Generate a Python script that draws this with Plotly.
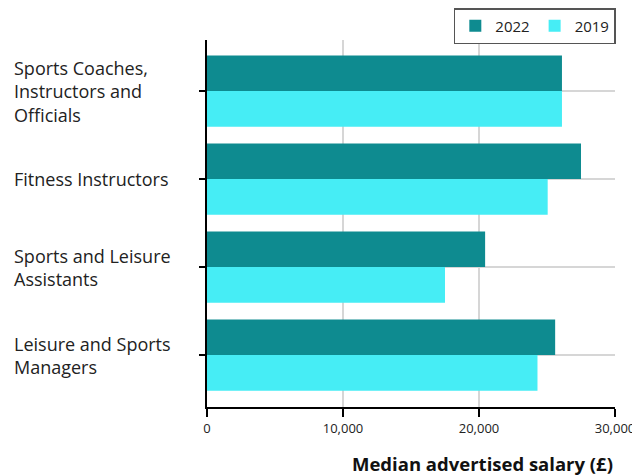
import plotly.graph_objects as go

categories = ["Sports Coaches,<br>Instructors and<br>Officials",
              "Fitness Instructors",
              "Sports and Leisure<br>Assistants",
              "Leisure and Sports<br>Managers"]
cat_ids = ["c0", "c1", "c2", "c3"]
values_2022 = [26100, 27500, 20450, 25600]
values_2019 = [26100, 25050, 17500, 24300]
x_ticks = [0, 10000, 20000, 30000]

TEAL = "#0E8B90"
CYAN = "#46EDF5"
FONT = "Open Sans, Lato, sans-serif"

fig = go.Figure()
fig.add_trace(go.Bar(y=cat_ids, x=values_2022, name="2022", orientation="h",
                     marker=dict(color=TEAL, line=dict(width=0))))
fig.add_trace(go.Bar(y=cat_ids, x=values_2019, name="2019", orientation="h",
                     marker=dict(color=CYAN, line=dict(width=0))))

for cid, label in zip(cat_ids, categories):
    fig.add_annotation(x=-0.477, xref="paper", y=cid, yref="y", text=label,
                       showarrow=False, xanchor="left", align="left",
                       font=dict(size=18, color="#222", family=FONT))

fig.add_annotation(x=1.0, xref="paper", y=-0.153, yref="paper",
                   text="<b>Median advertised salary (£)</b>", showarrow=False,
                   xanchor="right", yanchor="middle",
                   font=dict(size=18.5, color="#111", family=FONT))

fig.update_layout(
    width=632, height=467,
    margin=dict(l=199, r=25, t=32, b=68, autoexpand=False),
    paper_bgcolor="white", plot_bgcolor="white",
    barmode="group", bargap=0.19, bargroupgap=0,
    font=dict(family=FONT, size=13, color="#222"),
    legend=dict(orientation="h", x=1.002, xanchor="right", y=1.087, yanchor="top",
                bordercolor="#555", borderwidth=1.5, traceorder="normal",
                font=dict(size=15, family=FONT, color="#222"),
                itemwidth=30, tracegroupgap=0),
    xaxis=dict(range=[0, 30000], tickvals=x_ticks, tickformat=",",
               showline=True, linecolor="black", linewidth=2,
               ticks="outside", ticklen=8, tickwidth=2, tickcolor="black",
               showgrid=True, gridcolor="#d6d6d6", gridwidth=1.5,
               zeroline=False, tickfont=dict(size=13, family=FONT, color="#222")),
    yaxis=dict(categoryorder="array", categoryarray=cat_ids,
               range=[3.59, -0.58], showticklabels=False,
               showline=True, linecolor="black", linewidth=2,
               ticks="outside", ticklen=6, tickwidth=2, tickcolor="black",
               showgrid=True, gridcolor="#d6d6d6", gridwidth=1.5),
)

fig.write_html("out.html")
